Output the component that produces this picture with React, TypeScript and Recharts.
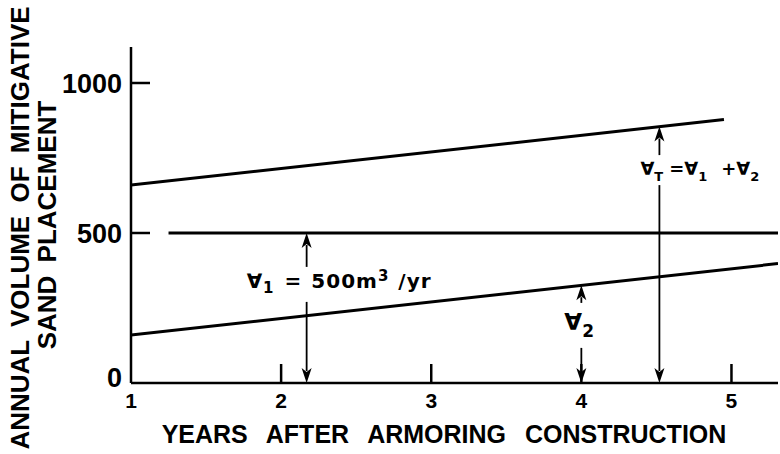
import React from 'react';
import { LineChart, Line, XAxis, YAxis, ReferenceLine } from 'recharts';

const yearTicks = [1, 2, 3, 4, 5];
const volumeTicks = [0, 500, 1000];

// total volume, V_T = V_1 + V_2
const totalYears = [1, 4.95];
const totalVolume = [660, 878];
// V_1, constant 500 m3/yr
const baseYears = [1.25, 5.31];
const baseVolume = [500, 500];
// V_2, grows with time
const extraYears = [1, 5.31];
const extraVolume = [160, 398];

// dimension arrows: year, top of arrow, label baseline (all in data units)
const arrowYears = [2.17, 4, 4.52];
const arrowTops = [500, 326, 855];
const arrowLabelAt = [317, 177, 693];

const FONT = '"Liberation Sans", Arial, Helvetica, sans-serif';
const SYM = '"DejaVu Sans", "Liberation Sans", sans-serif';

const toRows = (years: number[], values: number[]) =>
  years.map((year, i) => ({ year, volume: values[i] }));

const totalData = toRows(totalYears, totalVolume);
const baseData = toRows(baseYears, baseVolume);
const extraData = toRows(extraYears, extraVolume);

const XTick = (props: any) => {
  const { x, y, payload } = props;
  return (
    <g>
      {payload.value !== 1 && (
        <line x1={x} y1={y} x2={x} y2={y - 19} stroke="#000" strokeWidth={2.5} />
      )}
      <text x={x} y={y + 25} textAnchor="middle" fontFamily={FONT} fontWeight="bold" fontSize={21} fill="#000">
        {payload.value}
      </text>
    </g>
  );
};

const YTick = (props: any) => {
  const { x, y, payload } = props;
  return (
    <g>
      {payload.value !== 0 && (
        <line x1={x} y1={y} x2={x + 19} y2={y} stroke="#000" strokeWidth={2.5} />
      )}
      <text
        x={x - 9}
        y={y + (payload.value === 0 ? 4 : 10)}
        textAnchor="end"
        fontFamily={FONT}
        fontWeight="bold"
        fontSize={27}
        fill="#000"
      >
        {payload.value}
      </text>
    </g>
  );
};

type LabelFn = (x: number, y: number) => React.ReactNode;

const labelV1: LabelFn = (x, y) => (
  <text x={x - 60} y={y} fontFamily={SYM} fontWeight="bold" fontSize={20} letterSpacing={1} fill="#000">
    ∀<tspan fontSize={15} dy={5}>1</tspan>
    <tspan dy={-5} dx={10}>=</tspan>
    <tspan dx={9}>500m</tspan>
    <tspan fontSize={15} dy={-7}>3</tspan>
    <tspan dy={7} dx={9}>/yr</tspan>
  </text>
);

const labelV2: LabelFn = (x, y) => (
  <text x={x - 17} y={y} fontFamily={SYM} fontWeight="bold" fontSize={23} fill="#000">
    ∀<tspan fontSize={17} dy={7}>2</tspan>
  </text>
);

const labelVT: LabelFn = (x, y) => (
  <text x={x - 19} y={y} fontFamily={SYM} fontWeight="bold" fontSize={18} fill="#000">
    ∀<tspan fontSize={13} dy={6}>T</tspan>
    <tspan dy={-6} dx={6}>=∀</tspan>
    <tspan fontSize={13} dy={6}>1</tspan>
    <tspan dy={-6} dx={14}>+∀</tspan>
    <tspan fontSize={13} dy={6}>2</tspan>
  </text>
);

const arrowLabels: LabelFn[] = [labelV1, labelV2, labelVT];
const arrowGaps = [
  [21, 14],
  [27, 18],
  [20, 10],
];

const arrowShape = (i: number) => (props: any) => {
  const { x1, y1, y2 } = props;
  const yb = Math.max(y1, y2);
  const yt = Math.min(y1, y2);
  const x = x1;
  const ly = yb - ((yb - yt) * arrowLabelAt[i]) / arrowTops[i];
  const [above, below] = arrowGaps[i];
  const head = 15;
  const half = 5;
  return (
    <g>
      <line x1={x} y1={yt + head - 3} x2={x} y2={ly - above} stroke="#000" strokeWidth={1.8} />
      <line x1={x} y1={ly + below} x2={x} y2={yb - head + 3} stroke="#000" strokeWidth={1.8} />
      <polygon
        points={`${x},${yt} ${x - half},${yt + head} ${x},${yt + head - 4} ${x + half},${yt + head}`}
        fill="#000"
      />
      <polygon
        points={`${x},${yb} ${x - half},${yb - head} ${x},${yb - head + 4} ${x + half},${yb - head}`}
        fill="#000"
      />
      {arrowLabels[i](x, ly)}
    </g>
  );
};

export default function App() {
  return (
    <div style={{ position: 'absolute', left: 0, top: 0, width: 780, height: 454, background: '#fff' }}>
      <LineChart width={780} height={454} margin={{ top: 47, right: 2, bottom: 41, left: 71 }}>
        <XAxis
          type="number"
          dataKey="year"
          domain={[1, 5.31]}
          ticks={yearTicks}
          allowDataOverflow
          height={30}
          tickSize={0}
          tickMargin={0}
          tickLine={false}
          axisLine={{ stroke: '#000', strokeWidth: 2.5 }}
          tick={<XTick />}
        />
        <YAxis
          type="number"
          domain={[0, 1120]}
          ticks={volumeTicks}
          allowDataOverflow
          width={60}
          tickSize={0}
          tickMargin={0}
          tickLine={false}
          axisLine={{ stroke: '#000', strokeWidth: 2.5 }}
          tick={<YTick />}
        />
        <Line data={totalData} dataKey="volume" type="linear" stroke="#000" strokeWidth={3} dot={false} isAnimationActive={false} />
        <Line data={baseData} dataKey="volume" type="linear" stroke="#000" strokeWidth={3} dot={false} isAnimationActive={false} />
        <Line data={extraData} dataKey="volume" type="linear" stroke="#000" strokeWidth={3} dot={false} isAnimationActive={false} />
        {arrowYears.map((year, i) => (
          <ReferenceLine
            key={i}
            segment={[
              { x: year, y: 0 },
              { x: year, y: arrowTops[i] },
            ]}
            shape={arrowShape(i)}
          />
        ))}
      </LineChart>
      <svg width={780} height={454} style={{ position: 'absolute', left: 0, top: 0, pointerEvents: 'none' }}>
        <text
          transform="translate(20,228) rotate(-90)"
          textAnchor="middle"
          dominantBaseline="central"
          fontFamily={FONT}
          fontWeight="bold"
          fontSize={26}
          wordSpacing={6}
          fill="#000"
        >
          ANNUAL VOLUME OF MITIGATIVE
        </text>
        <text
          transform="translate(47,225) rotate(-90)"
          textAnchor="middle"
          dominantBaseline="central"
          fontFamily={FONT}
          fontWeight="bold"
          fontSize={26}
          wordSpacing={6}
          fill="#000"
        >
          SAND PLACEMENT
        </text>
        <text x={444} y={443} textAnchor="middle" fontFamily={FONT} fontWeight="bold" fontSize={25} wordSpacing={12} fill="#000">
          YEARS AFTER ARMORING CONSTRUCTION
        </text>
      </svg>
    </div>
  );
}
